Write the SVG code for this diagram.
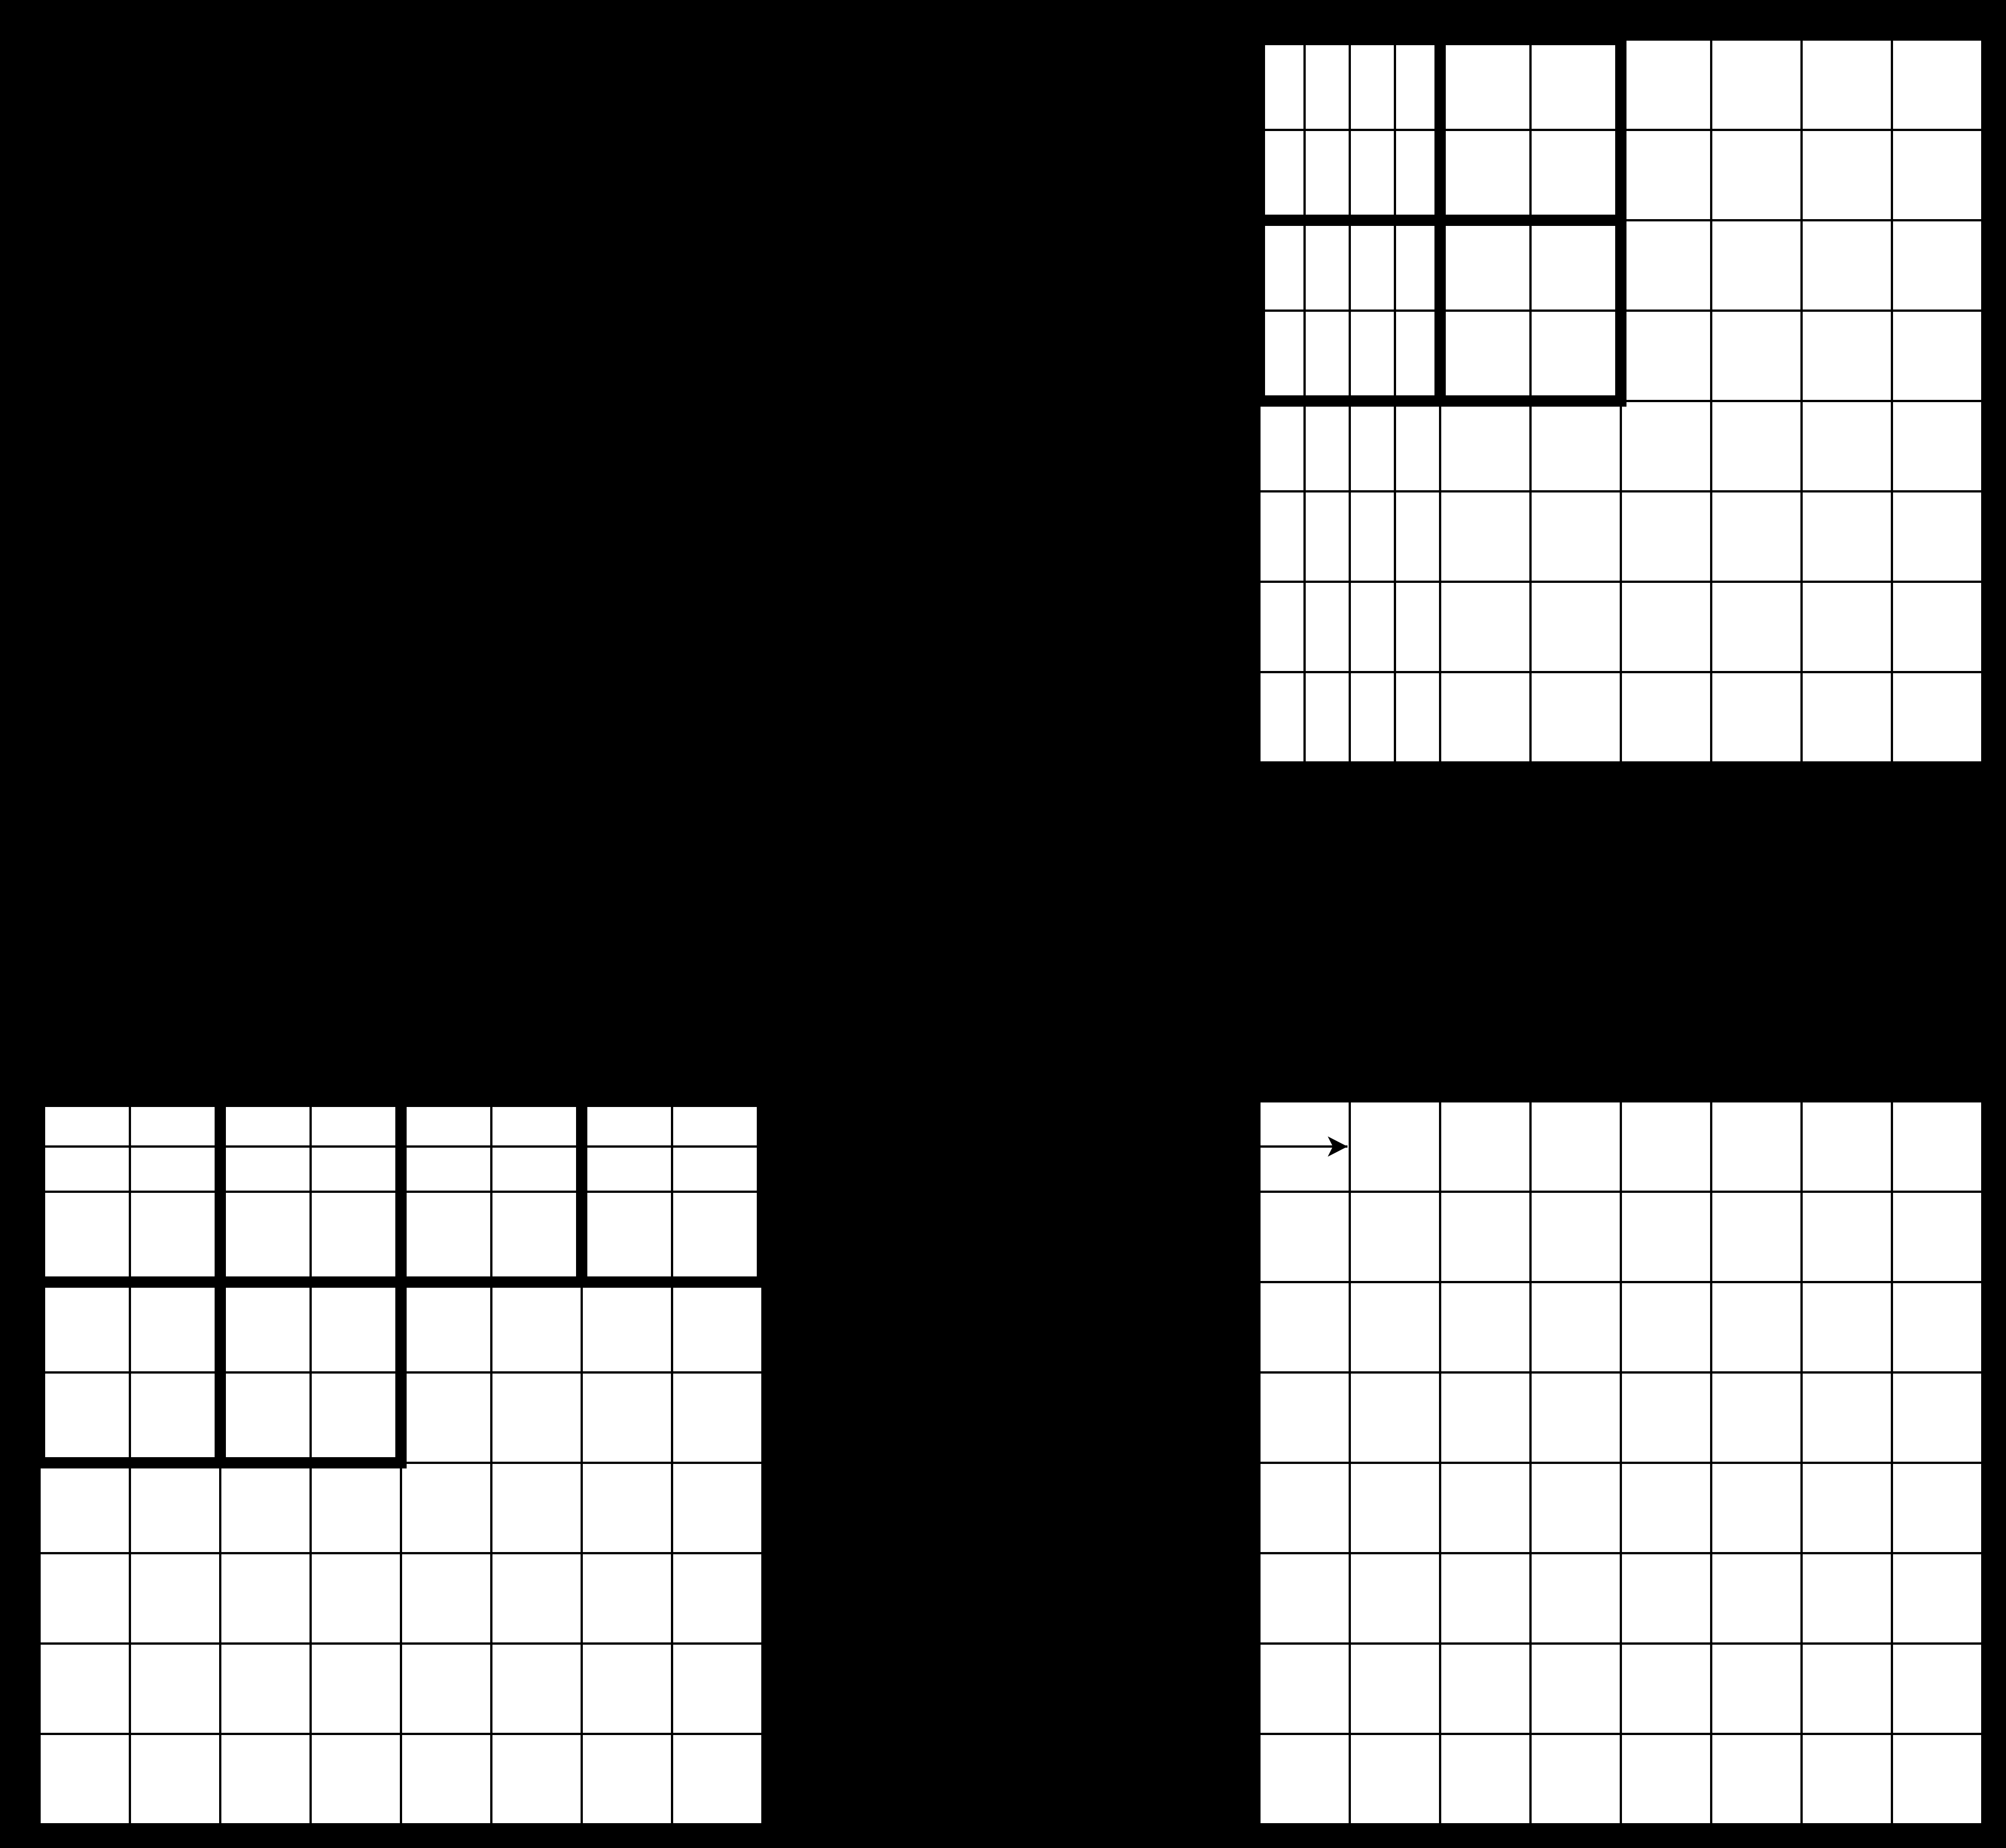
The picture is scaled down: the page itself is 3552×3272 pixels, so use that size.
<svg xmlns="http://www.w3.org/2000/svg" width="3552" height="3272" viewBox="0 0 3552 3272">
  <style>
    .board { fill: #ffffff; stroke: #000000; stroke-width: 4; }
    .thin { fill: none; stroke: #000000; stroke-width: 4; }
    .thick { fill: none; stroke: #000000; stroke-width: 20; }
    .conn { fill: none; stroke: #000000; stroke-width: 4; }
  </style>
  <defs>
    <marker id="arrow" markerUnits="userSpaceOnUse" markerWidth="36" markerHeight="36" refX="35" refY="18" orient="auto">
      <path d="M0,0 L35,18 L0,36 L9,18 Z" fill="#000000"/>
    </marker>
  </defs>
  <rect x="0" y="0" width="3552" height="3272" fill="#000000"/>

  <g id="grid-top-right">
    <rect class="board" x="2230" y="70" width="1280" height="1280"/>
    <path class="thin" d="M2310 70V1350 M2390 70V1350 M2470 70V1350 M2550 70V1350 M2710 70V1350 M2870 70V1350 M3030 70V1350 M3190 70V1350 M3350 70V1350
      M2230 230H3510 M2230 390H3510 M2230 550H3510 M2230 710H3510 M2230 870H3510 M2230 1030H3510 M2230 1190H3510"/>
    <rect class="thick" x="2230" y="70" width="320" height="320"/>
    <rect class="thick" x="2550" y="70" width="320" height="320"/>
    <rect class="thick" x="2230" y="390" width="320" height="320"/>
    <rect class="thick" x="2550" y="390" width="320" height="320"/>
  </g>

  <g id="grid-bottom-left">
    <rect class="board" x="70" y="1950" width="1280" height="1280"/>
    <path class="thin" d="M230 1950V3230 M390 1950V3230 M550 1950V3230 M710 1950V3230 M870 1950V3230 M1030 1950V3230 M1190 1950V3230
      M70 2030H1350 M70 2110H1350 M70 2270H1350 M70 2430H1350 M70 2590H1350 M70 2750H1350 M70 2910H1350 M70 3070H1350"/>
    <rect class="thick" x="70" y="1950" width="320" height="320"/>
    <rect class="thick" x="390" y="1950" width="320" height="320"/>
    <rect class="thick" x="710" y="1950" width="320" height="320"/>
    <rect class="thick" x="1030" y="1950" width="320" height="320"/>
    <rect class="thick" x="70" y="2270" width="320" height="320"/>
    <rect class="thick" x="390" y="2270" width="320" height="320"/>
  </g>

  <g id="grid-bottom-right">
    <rect class="board" x="2230" y="1950" width="1280" height="1280"/>
    <path class="thin" d="M2390 1950V3230 M2550 1950V3230 M2710 1950V3230 M2870 1950V3230 M3030 1950V3230 M3190 1950V3230 M3350 1950V3230
      M2230 2110H3510 M2230 2270H3510 M2230 2430H3510 M2230 2590H3510 M2230 2750H3510 M2230 2910H3510 M2230 3070H3510"/>
  </g>

  <g id="connectors">
    <path class="conn" d="M2232 2030H2386" marker-end="url(#arrow)"/>
  </g>
</svg>
